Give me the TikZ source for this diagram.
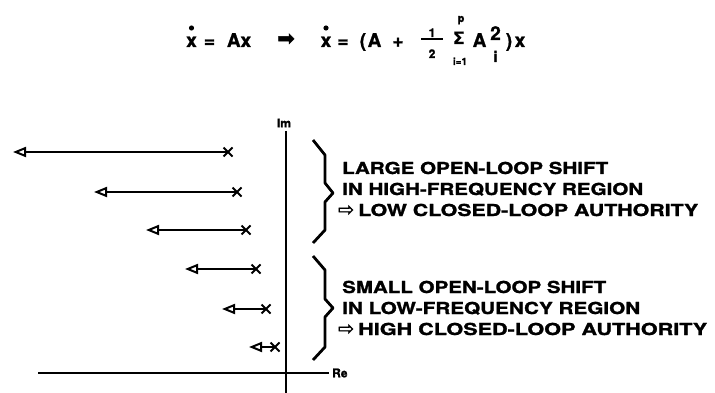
\documentclass[tikz,border=0pt]{standalone}
\usepackage{fontspec}
\usepackage{graphicx}
\setmainfont{TeX Gyre Heros}
\newfontfamily\lblfont[BoldFeatures={FakeBold=1.2}]{TeX Gyre Heros}
\newfontfamily\eqfont[BoldFeatures={FakeBold=1.2}]{TeX Gyre Heros}
\newfontfamily\symfont[FakeBold=1.5]{DejaVu Sans}
\newcommand{\fitw}[2]{\resizebox{#1}{\height}{#2}}
\usetikzlibrary{arrows.meta,shapes.misc}
\tikzset{
  pole/.style={cross out, draw, minimum size=7pt, inner sep=0pt, line width=2pt},
  shiftarrow/.style={line width=2pt, -{Triangle[open,length=13pt,width=10pt]}},
  axis/.style={line width=2pt},
  bracepath/.style={line width=2.8pt, line join=round},
  lbl/.style={anchor=base west, inner sep=0pt, font=\lblfont\bfseries\fontsize{16.5}{16.5}\selectfont},
  hollow/.style={anchor=base west, inner sep=0pt, font=\symfont\fontsize{19}{19}\selectfont},
  eq/.style={anchor=base, inner sep=0pt, font=\eqfont\bfseries\fontsize{19}{19}\selectfont},
  eqs/.style={anchor=base, inner sep=0pt, font=\eqfont\bfseries\fontsize{12}{12}\selectfont},
  axlbl/.style={inner sep=0pt, font=\eqfont\bfseries\fontsize{12}{12}\selectfont},
}
\begin{document}
\begin{tikzpicture}[x=1pt,y=-1pt]
\useasboundingbox (0,0) rectangle (715,393);
% ---------- equation ----------
\node[eq] (x1) at (191.5,47) {x};
\fill (191.5,28) circle (2.6pt);
\node[eq] (eq1) at (209.5,47) {=};
\node[eq] (ax) at (239,47) {Ax};
\node[inner sep=0pt, font=\symfont\fontsize{21}{21}\selectfont] (imp) at (286,39.5) {➡};
\node[eq] (x2) at (326,47) {x};
\fill (326,28) circle (2.6pt);
\node[eq] (eq2) at (343,47) {=};
\node[eq] (lp) at (363,47) {(};
\node[eq] (a1) at (374.5,47) {A};
\node[eq] (plus) at (398,47) {+};
\node[eqs] (num) at (432,37) {1};
\draw[line width=1.4pt] (421,39) -- (443,39);
\node[eqs] (den) at (432,58) {2};
\node[eq, font=\eqfont\bfseries\fontsize{17}{17}\selectfont] (sig) at (459,44) {Σ};
\node[eqs, font=\eqfont\bfseries\fontsize{11}{11}\selectfont] (up) at (461,22) {p};
\node[eqs, font=\eqfont\bfseries\fontsize{10}{10}\selectfont] (lo) at (460,65) {i=1};
\node[eq] (a2) at (479.5,47) {A};
\node[eq, font=\eqfont\bfseries\fontsize{19}{19}\selectfont] (sq) at (495.5,40) {2};
\node[eq, font=\eqfont\bfseries\fontsize{15}{15}\selectfont] (sub) at (495.5,62) {i};
\node[eq] (rp) at (509,47) {)};
\node[eq] (x3) at (520,47) {x};
% ---------- axes ----------
\coordinate (imtop) at (286,131);
\coordinate (imbot) at (286,393);
\coordinate (releft) at (38,373);
\coordinate (reright) at (329,373);
\draw[axis] (imtop) -- (imbot);
\draw[axis] (releft) -- (reright);
\node[axlbl] (im) at (284,123) {Im};
\node[axlbl, anchor=west] (re) at (332,373) {Re};
% ---------- pole shifts ----------
\node[pole] (p1) at (228,152) {};
\node[pole] (p2) at (237,192) {};
\node[pole] (p3) at (246,230) {};
\node[pole] (p4) at (256,269) {};
\node[pole] (p5) at (266,309) {};
\node[pole] (p6) at (275,347) {};
\coordinate (t1) at (13,152);
\coordinate (t2) at (94,192);
\coordinate (t3) at (146,230);
\coordinate (t4) at (185,269);
\coordinate (t5) at (222,309);
\coordinate (t6) at (249,347);
\foreach \i in {1,...,6} \draw[shiftarrow] (p\i.center) -- (t\i);
% ---------- braces ----------
\draw[bracepath] (313,140) -- (325,155) -- (325,183) -- (333,193) -- (325,202) -- (325,230) -- (313,243);
\draw[bracepath] (313,256) -- (325,270) -- (325,299) -- (333,308) -- (325,317) -- (325,347) -- (313,360);
% ---------- labels ----------
\node[lbl] (l1) at (342,174) {\fitw{266pt}{LARGE OPEN-LOOP SHIFT}};
\node[lbl] (l2) at (342,195) {\fitw{301pt}{IN HIGH-FREQUENCY REGION}};
\node[hollow] (h1) at (338,216) {⇨};
\node[lbl] (l3) at (358,216) {\fitw{340pt}{LOW CLOSED-LOOP AUTHORITY}};
\node[lbl] (l4) at (342,293) {\fitw{264pt}{SMALL OPEN-LOOP SHIFT}};
\node[lbl] (l5) at (342,314) {\fitw{298pt}{IN LOW-FREQUENCY REGION}};
\node[hollow] (h2) at (338,335) {⇨};
\node[lbl] (l6) at (358,335) {\fitw{349pt}{HIGH CLOSED-LOOP AUTHORITY}};
\end{tikzpicture}
\end{document}
